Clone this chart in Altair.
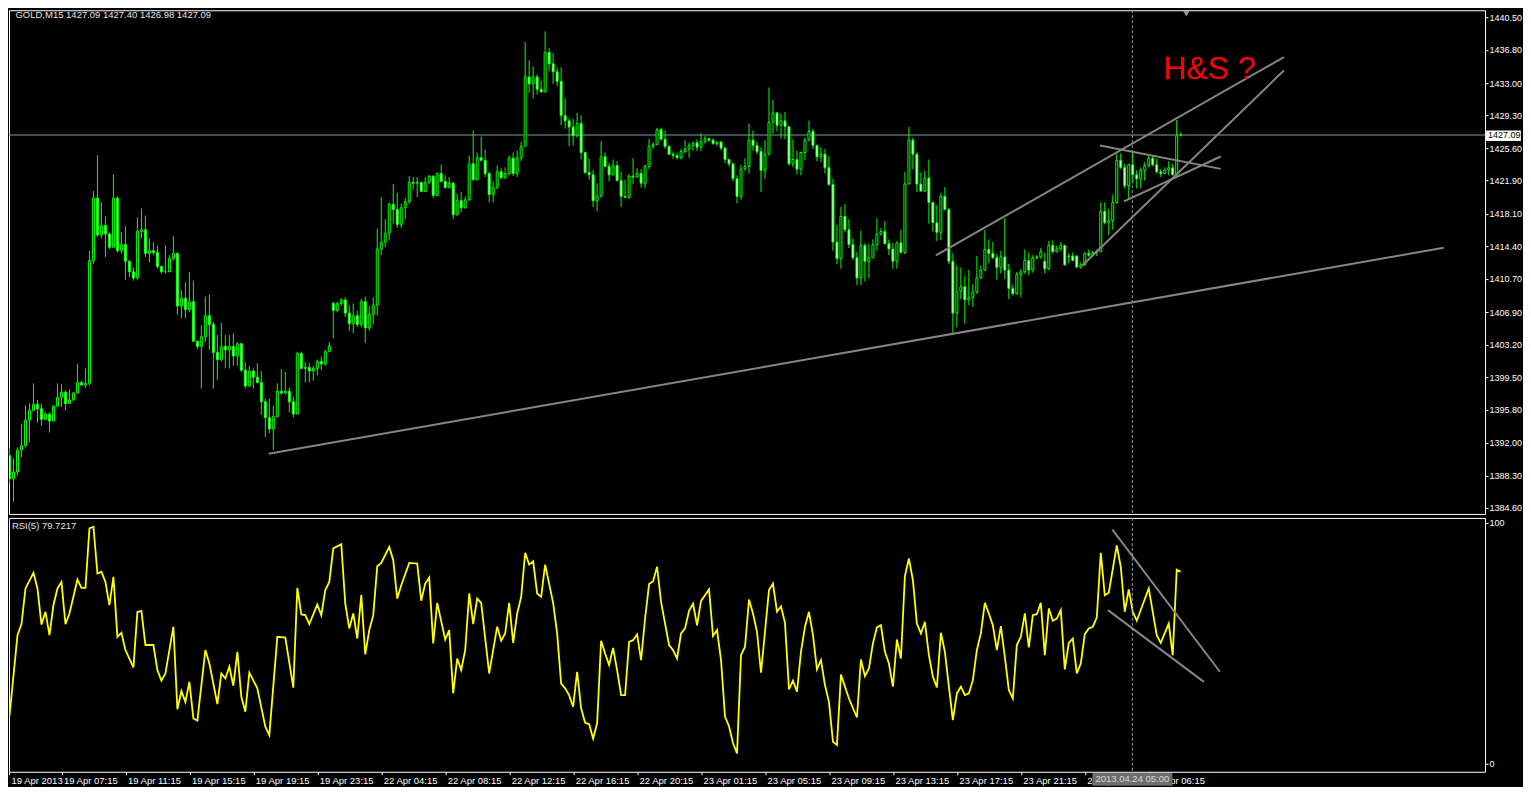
import altair as alt
import pandas as pd

FONT = "Liberation Sans"
LIME = "#00ff00"

# ---------------- candles (GOLD M15), bar index 0..294 ----------------
close = [
    1390.6, 1387.9, 1388.7, 1391.2, 1391.7, 1394.6, 1395.7, 1396.4, 1395.9, 1394.7,
    1395.3, 1394.5, 1396.2, 1397.2, 1397.8, 1396.5, 1396.9, 1397.7, 1398.9, 1398.6,
    1398.8, 1412.8, 1419.9, 1415.7, 1416.8, 1415.8, 1414.3, 1419.9, 1413.9, 1414.6,
    1412.7, 1411.5, 1410.8, 1416.1, 1416.3, 1413.6, 1413.9, 1413.7, 1412.1, 1411.5,
    1411.5, 1413.0, 1413.6, 1407.6, 1408.5, 1407.2, 1408.1, 1403.6, 1403.0, 1404.1,
    1406.5, 1405.5, 1402.3, 1401.5, 1403.0, 1402.6, 1403.0, 1401.9, 1403.3, 1400.3,
    1398.5, 1400.2, 1399.5, 1398.9, 1396.7, 1394.9, 1393.6, 1395.0, 1397.9, 1397.7,
    1397.9, 1396.7, 1395.3, 1402.2, 1400.5, 1400.6, 1400.2, 1400.5, 1401.3, 1401.0,
    1402.4, 1403.05, 1407.1, 1407.9, 1408.3, 1406.8, 1405.6, 1406.5, 1405.5, 1408.1,
    1405.1, 1406.65, 1407.7, 1414.1, 1414.9, 1415.9, 1419.2, 1418.6, 1416.9, 1418.8,
    1419.5, 1421.7, 1421.6, 1421.7, 1420.65, 1421.7, 1422.4, 1420.2, 1422.7, 1421.8,
    1421.1, 1421.6, 1418.0, 1419.6, 1418.8, 1419.7, 1423.8, 1422.0, 1424.5, 1424.2,
    1422.7, 1420.3, 1421.1, 1422.9, 1422.2, 1422.7, 1424.45, 1422.7, 1424.5, 1425.8,
    1433.7, 1432.9, 1433.7, 1432.3, 1432.0, 1436.5, 1435.2, 1434.3, 1433.2, 1429.3,
    1428.7, 1428.0, 1427.0, 1428.4, 1425.1, 1422.8, 1422.55, 1419.6, 1420.1, 1424.6,
    1423.5, 1422.55, 1423.6, 1421.9, 1420.1, 1420.0, 1422.4, 1422.3, 1422.7, 1421.6,
    1423.5, 1425.8, 1426.0, 1427.7, 1426.6, 1425.8, 1424.9, 1424.75, 1424.5, 1425.2,
    1425.5, 1425.9, 1426.2, 1425.7, 1426.35, 1426.65, 1426.5, 1426.1, 1426.3, 1425.6,
    1424.3, 1423.8, 1422.1, 1420.1, 1423.2, 1423.5, 1426.5, 1425.9, 1425.2, 1423.05,
    1424.9, 1428.55, 1429.6, 1428.2, 1428.7, 1428.05, 1423.8, 1424.3, 1423.2, 1425.1,
    1426.5, 1427.5, 1425.9, 1424.6, 1424.9, 1423.35, 1421.45, 1414.9, 1413.0, 1417.8,
    1416.3, 1414.6, 1413.1, 1410.8, 1414.5, 1412.7, 1413.1, 1414.6, 1415.8, 1416.1,
    1414.7, 1414.1, 1412.7, 1414.8, 1413.7, 1421.5, 1426.5, 1424.9, 1421.5, 1420.7,
    1422.2, 1419.4, 1417.1, 1416.0, 1420.1, 1418.6, 1412.7, 1406.8, 1409.3, 1409.8,
    1408.3, 1408.6, 1409.2, 1410.8, 1411.7, 1414.05, 1413.6, 1413.1, 1412.0, 1413.2,
    1411.7, 1409.6, 1409.0, 1411.2, 1411.5, 1412.8, 1411.7, 1413.1, 1413.2, 1413.8,
    1411.85, 1414.5, 1413.8, 1414.1, 1414.5, 1412.3, 1413.3, 1412.8, 1412.04, 1412.3,
    1413.6, 1413.4, 1413.7, 1413.8, 1418.4, 1417.1, 1417.35, 1419.4, 1424.2, 1423.4,
    1421.3, 1423.7, 1422.55, 1422.1, 1423.05, 1423.6, 1424.45, 1423.7, 1422.9, 1422.7,
    1423.1, 1423.35, 1422.55, 1427.0, 1427.09,
]
high = [
    1392.3, 1391.5, 1390.2, 1391.5, 1394.2, 1396.3, 1396.5, 1398.8, 1396.9, 1396.5,
    1395.5, 1395.5, 1396.3, 1398.8, 1398.7, 1398.0, 1398.1, 1397.8, 1401.0, 1399.1,
    1400.5, 1413.9, 1420.7, 1424.8, 1419.4, 1417.8, 1416.0, 1422.6, 1420.1, 1416.0,
    1416.7, 1412.8, 1412.0, 1417.7, 1418.7, 1417.9, 1415.3, 1414.9, 1414.5, 1412.2,
    1414.5, 1413.4, 1415.6, 1413.7, 1409.4, 1410.3, 1411.5, 1410.5, 1403.7, 1405.4,
    1408.7, 1408.9, 1405.8, 1404.3, 1405.7, 1404.3, 1404.3, 1404.5, 1403.5, 1403.4,
    1401.2, 1400.8, 1400.5, 1401.1, 1400.2, 1397.05, 1397.1, 1396.2, 1398.8, 1400.4,
    1400.1, 1398.3, 1397.3, 1402.4, 1402.4, 1401.2, 1401.1, 1400.8, 1401.5, 1401.8,
    1402.6, 1403.5, 1408.1, 1408.1, 1408.5, 1408.6, 1407.7, 1407.9, 1407.1, 1408.4,
    1408.7, 1407.6, 1408.6, 1416.4, 1420.0, 1417.5, 1419.4, 1421.5, 1420.5, 1419.25,
    1419.9, 1422.4, 1422.3, 1422.3, 1421.7, 1422.3, 1422.55, 1422.5, 1422.8, 1423.7,
    1422.5, 1422.3, 1421.8, 1420.4, 1420.6, 1420.1, 1424.75, 1427.6, 1425.1, 1426.9,
    1425.4, 1422.9, 1421.8, 1423.6, 1423.3, 1423.4, 1424.75, 1425.1, 1425.3, 1426.3,
    1437.7, 1435.6, 1434.9, 1434.0, 1433.3, 1438.9, 1437.0, 1436.4, 1434.8, 1434.8,
    1431.3, 1429.0, 1428.9, 1429.6, 1429.3, 1425.2, 1424.4, 1423.1, 1421.6, 1426.4,
    1425.1, 1423.9, 1424.3, 1424.1, 1422.9, 1422.0, 1422.6, 1424.45, 1423.3, 1423.2,
    1423.7, 1426.65, 1426.3, 1427.9, 1427.9, 1427.6, 1425.9, 1425.2, 1425.1, 1425.5,
    1426.5, 1426.2, 1426.3, 1426.6, 1427.3, 1427.0, 1426.8, 1426.7, 1426.35, 1426.35,
    1425.7, 1424.4, 1423.8, 1422.5, 1423.7, 1424.45, 1428.4, 1427.6, 1426.3, 1425.7,
    1426.5, 1432.5, 1431.1, 1429.7, 1429.5, 1429.7, 1428.0, 1426.6, 1425.3, 1425.2,
    1426.8, 1428.7, 1427.8, 1426.0, 1425.7, 1425.5, 1424.7, 1422.1, 1416.9, 1418.9,
    1419.25, 1417.5, 1415.3, 1413.8, 1416.2, 1414.8, 1414.7, 1415.2, 1417.6, 1416.5,
    1417.3, 1415.2, 1414.8, 1415.0, 1416.3, 1422.9, 1428.0, 1426.8, 1425.1, 1422.8,
    1423.05, 1424.3, 1419.5, 1419.1, 1420.5, 1421.15, 1418.8, 1413.6, 1412.2, 1412.0,
    1411.1, 1411.7, 1410.1, 1413.3, 1412.2, 1416.3, 1415.2, 1414.9, 1413.5, 1413.9,
    1417.6, 1412.4, 1410.0, 1411.5, 1411.8, 1414.05, 1413.7, 1413.4, 1413.4, 1414.2,
    1413.7, 1415.0, 1415.1, 1414.5, 1414.9, 1414.6, 1413.6, 1413.7, 1413.4, 1412.6,
    1413.7, 1414.05, 1413.9, 1414.05, 1419.4, 1419.4, 1418.7, 1420.3, 1424.9, 1425.0,
    1423.8, 1423.8, 1425.1, 1423.05, 1423.4, 1424.0, 1424.7, 1424.75, 1424.4, 1423.2,
    1423.4, 1424.1, 1423.8, 1428.8, 1427.40,
]
low = [
    1389.5, 1387.4, 1385.3, 1388.3, 1390.4, 1391.5, 1392.1, 1395.7, 1394.3, 1394.0,
    1394.6, 1393.2, 1394.5, 1396.1, 1396.1, 1395.7, 1396.5, 1396.8, 1397.6, 1398.6,
    1398.3, 1398.6, 1412.4, 1415.5, 1415.3, 1413.2, 1414.1, 1414.2, 1413.7, 1413.6,
    1410.6, 1410.9, 1410.5, 1410.6, 1415.3, 1413.2, 1412.6, 1413.4, 1411.85, 1411.3,
    1411.3, 1411.5, 1412.8, 1406.6, 1406.2, 1406.2, 1406.9, 1403.5, 1402.7, 1398.2,
    1403.5, 1402.6, 1398.2, 1399.2, 1401.3, 1400.5, 1400.5, 1400.8, 1400.8, 1400.1,
    1398.2, 1398.4, 1398.2, 1398.8, 1395.2, 1392.65, 1393.1, 1391.2, 1394.96, 1397.5,
    1397.5, 1395.5, 1394.9, 1395.3, 1400.5, 1398.9, 1398.9, 1399.1, 1399.7, 1400.3,
    1400.8, 1402.4, 1403.9, 1406.9, 1407.6, 1406.35, 1404.8, 1404.5, 1405.2, 1405.2,
    1403.4, 1404.8, 1405.5, 1406.5, 1413.4, 1414.3, 1415.1, 1417.0, 1416.5, 1416.5,
    1417.5, 1419.25, 1420.8, 1420.0, 1420.6, 1420.6, 1421.5, 1419.9, 1420.1, 1421.7,
    1420.96, 1421.0, 1417.5, 1417.9, 1418.3, 1418.7, 1419.6, 1421.9, 1421.9, 1424.1,
    1422.3, 1419.4, 1419.4, 1420.9, 1422.1, 1422.1, 1422.5, 1422.4, 1422.3, 1424.1,
    1425.8, 1431.9, 1431.3, 1431.7, 1431.9, 1432.0, 1434.35, 1432.9, 1432.65, 1428.2,
    1427.8, 1425.8, 1425.9, 1426.8, 1424.3, 1422.7, 1422.0, 1418.9, 1418.4, 1420.0,
    1423.4, 1421.8, 1422.5, 1421.8, 1418.9, 1419.9, 1419.8, 1421.5, 1422.2, 1421.1,
    1421.0, 1423.2, 1425.5, 1426.0, 1426.5, 1425.5, 1424.8, 1424.4, 1424.3, 1424.3,
    1425.0, 1424.5, 1425.3, 1425.25, 1425.25, 1426.1, 1426.35, 1426.0, 1425.8, 1425.3,
    1423.9, 1423.5, 1421.8, 1419.3, 1419.7, 1423.05, 1422.7, 1425.3, 1424.9, 1420.6,
    1422.1, 1424.75, 1427.3, 1427.5, 1426.65, 1426.6, 1423.6, 1423.4, 1422.6, 1422.5,
    1424.2, 1426.5, 1425.5, 1424.1, 1424.0, 1422.7, 1421.3, 1413.9, 1412.4, 1411.85,
    1416.0, 1414.2, 1412.8, 1410.0, 1410.0, 1410.4, 1410.8, 1413.1, 1413.9, 1415.65,
    1414.6, 1413.4, 1411.85, 1411.85, 1413.6, 1413.5, 1421.5, 1423.2, 1420.6, 1420.65,
    1420.6, 1417.0, 1416.1, 1415.0, 1415.1, 1418.5, 1412.4, 1404.3, 1405.2, 1408.4,
    1405.6, 1407.7, 1407.5, 1409.0, 1410.7, 1411.6, 1412.5, 1413.0, 1410.6, 1411.3,
    1410.7, 1408.4, 1408.8, 1408.9, 1408.6, 1411.3, 1411.1, 1411.4, 1412.9, 1413.0,
    1411.3, 1411.7, 1413.6, 1413.7, 1413.9, 1412.2, 1412.5, 1412.7, 1411.9, 1411.85,
    1412.2, 1413.2, 1413.3, 1413.3, 1413.8, 1416.9, 1415.7, 1416.3, 1419.25, 1423.2,
    1421.0, 1419.8, 1421.7, 1421.0, 1421.0, 1421.9, 1423.4, 1423.5, 1422.7, 1422.3,
    1422.8, 1422.5, 1422.5, 1422.5, 1426.98,
]
# opens equal the previous close except at these bars
gap_open = {0: 1392.1, 82: 1407.9, 260: 1412.7, 266: 1413.2, 268: 1413.3}

# ---------------- RSI(5): (bar, value) vertices ----------------
rsi_points = [
    (1, 19.9), (3, 53.4), (4, 58.0), (5, 72.8), (7, 79.3), (8, 72.8), (9, 57.8), (10, 63.1),
    (11, 53.4), (12, 65.9), (13, 72.8), (14, 75.5), (15, 58.0), (16, 62.4), (18, 76.5), (19, 73.0),
    (20, 73.0), (21, 97.7), (22, 98.4), (23, 79.0), (24, 79.7), (25, 75.5), (26, 65.9), (27, 77.6),
    (28, 52.7), (29, 54.4), (30, 47.2), (32, 40.0), (33, 63.1), (34, 63.4), (35, 49.3), (37, 49.3),
    (38, 38.9), (39, 34.5), (40, 37.5), (42, 56.9), (43, 22.6), (44, 30.2), (45, 25.7), (46, 34.0),
    (47, 18.8), (48, 17.9), (50, 47.2), (51, 41.6), (53, 24.8), (54, 37.5), (55, 35.4), (56, 40.3),
    (57, 32.4), (58, 46.5), (59, 27.8), (60, 21.6), (61, 37.8), (63, 31.3), (65, 15.4), (66, 11.9),
    (68, 52.7), (70, 52.4), (72, 31.6), (73, 73.0), (74, 62.0), (75, 61.7), (76, 58.0), (78, 66.1),
    (79, 61.7), (80, 72.1), (81, 75.5), (82, 89.4), (84, 91.2), (85, 66.5), (86, 56.2), (87, 62.4),
    (88, 52.0), (89, 70.0), (90, 45.4), (91, 55.5), (92, 61.7), (93, 82.0), (94, 83.4), (96, 90.0),
    (97, 84.5), (98, 68.6), (99, 74.1), (101, 83.4), (103, 83.1), (104, 67.7), (105, 74.8), (106, 77.3),
    (107, 50.0), (108, 66.8), (110, 51.6), (111, 55.5), (112, 29.2), (113, 43.7), (114, 38.9), (115, 47.2),
    (116, 70.7), (117, 58.0), (118, 68.6), (119, 66.8), (121, 37.5), (123, 56.9), (124, 51.1), (125, 54.1),
    (126, 66.8), (127, 50.2), (128, 62.4), (129, 69.3), (130, 87.6), (131, 82.7), (132, 84.1), (133, 70.7),
    (134, 69.3), (135, 82.7), (137, 66.8), (138, 54.1), (139, 33.3), (140, 31.3), (141, 28.5), (142, 23.7),
    (143, 38.2), (144, 23.0), (145, 17.0), (146, 16.5), (147, 10.5), (148, 16.8), (149, 51.1), (150, 45.8),
    (151, 41.0), (152, 48.1), (153, 38.9), (154, 28.5), (155, 28.5), (156, 50.6), (157, 51.3), (158, 53.7),
    (159, 43.0), (160, 60.3), (161, 74.6), (162, 75.8), (163, 81.8), (164, 67.2), (165, 58.2), (166, 49.3),
    (167, 47.2), (168, 43.7), (169, 54.1), (170, 56.2), (171, 63.5), (172, 66.5), (173, 57.5), (174, 67.6),
    (176, 72.4), (177, 53.0), (178, 55.5), (179, 43.0), (180, 19.5), (181, 15.6), (182, 8.5), (183, 4.3),
    (184, 45.1), (185, 48.6), (186, 68.2), (187, 62.4), (188, 54.8), (189, 37.8), (190, 54.8), (191, 72.1),
    (192, 74.8), (193, 63.1), (194, 65.4), (195, 58.5), (196, 30.9), (197, 34.5), (198, 29.9), (199, 46.5),
    (200, 56.9), (201, 63.1), (202, 53.4), (203, 39.2), (204, 43.0), (205, 32.7), (206, 25.7), (207, 9.1),
    (208, 7.8), (209, 37.0), (211, 27.1), (213, 19.2), (214, 43.3), (215, 36.4), (216, 39.6), (217, 50.0),
    (218, 56.6), (219, 57.5), (220, 46.5), (221, 41.6), (222, 32.0), (223, 51.6), (224, 43.7), (225, 77.9),
    (226, 85.2), (227, 76.2), (228, 58.2), (229, 54.1), (230, 58.9), (231, 45.1), (232, 36.1), (233, 31.7),
    (234, 54.4), (235, 46.5), (236, 32.0), (237, 18.1), (238, 29.2), (239, 32.0), (240, 28.5), (241, 29.2),
    (242, 34.7), (243, 47.2), (244, 54.1), (245, 66.8), (246, 62.4), (247, 57.5), (248, 47.2), (249, 57.1),
    (250, 44.4), (251, 30.6), (252, 27.1), (253, 49.3), (254, 52.7), (255, 62.4), (256, 48.3), (257, 61.7),
    (258, 62.1), (259, 66.8), (260, 45.1), (261, 64.5), (262, 59.4), (263, 60.3), (264, 63.8), (265, 39.2),
    (266, 50.2), (267, 52.0), (268, 37.5), (269, 41.6), (270, 53.8), (271, 56.2), (272, 56.9), (273, 60.7),
    (274, 87.6), (275, 70.0), (276, 71.0), (278, 90.7), (279, 81.8), (280, 63.1), (281, 72.4), (282, 63.1),
    (283, 59.4), (286, 72.8), (288, 53.4), (289, 50.2), (291, 58.2), (292, 45.1), (293, 80.6), (294, 79.7),
]

# ---------------- axes text ----------------
price_ticks = [1440.50, 1436.80, 1433.00, 1429.30, 1425.60, 1421.90, 1418.10, 1414.40,
               1410.70, 1406.90, 1403.20, 1399.50, 1395.80, 1392.00, 1388.30, 1384.60]
rsi_ticks = [0, 100]
time_bars = [0.875, 14, 30, 46, 62, 78, 94, 110, 126, 142, 158, 174, 190, 206, 222, 238, 254, 270, 286]
time_labels = ["19 Apr 2013", "19 Apr 07:15", "19 Apr 11:15", "19 Apr 15:15", "19 Apr 19:15",
               "19 Apr 23:15", "22 Apr 04:15", "22 Apr 08:15", "22 Apr 12:15", "22 Apr 16:15",
               "22 Apr 20:15", "23 Apr 01:15", "23 Apr 05:15", "23 Apr 09:15", "23 Apr 13:15",
               "23 Apr 17:15", "23 Apr 21:15", "24 Apr 01:15", "24 Apr 06:15"]

# ---------------- drawn objects ----------------
price_lines_x1 = [65.8, 232.75, 269.4, 273.8, 279.8]
price_lines_p1 = [1390.78, 1413.37, 1412.23, 1425.89, 1419.52]
price_lines_x2 = [359.8, 319.8, 319.8, 304.0, 304.0]
price_lines_p2 = [1414.24, 1435.95, 1434.43, 1423.23, 1424.64]
rsi_lines_x1 = [276.9, 275.8]
rsi_lines_r1 = [97.2, 63.8]
rsi_lines_x2 = [303.8, 299.8]
rsi_lines_r2 = [38.2, 34.0]

last_price = 1427.09
crosshair_bar = 281.9
crosshair_text = "2013.04.24 05:00"
header_text = "GOLD,M15  1427.09 1427.40 1426.98 1427.09"
rsi_text = "RSI(5) 79.7217"
note_text = "H&S ?"

# ---------------- scales / layout ----------------
W = 1477
H_PRICE = 504
H_RSI = 254
X_DOM = [0.875, 0.875 + W / 4.0]
P_DOM = [1383.92, 1441.30]
R_DOM = [-3.32, 102.07]

xs = alt.Scale(domain=X_DOM, nice=False, zero=False, padding=0)
ps = alt.Scale(domain=P_DOM, nice=False, zero=False, padding=0)
rs = alt.Scale(domain=R_DOM, nice=False, zero=False, padding=0)

price_axis = alt.Axis(orient="right", values=price_ticks, format=".2f", title=None, grid=False,
                      domain=False, tickColor="white", tickSize=3, labelColor="white",
                      labelFont=FONT, labelFontSize=9, labelPadding=1, labelOverlap=False,
                      labelFlush=False)
rsi_axis = alt.Axis(orient="right", values=rsi_ticks, format="d", title=None, grid=False,
                    domain=False, tickColor="white", tickSize=3, labelColor="white",
                    labelFont=FONT, labelFontSize=9, labelPadding=1, labelOverlap=False,
                    labelFlush=False)
label_expr = ("[" + ",".join("'" + s + "'" for s in time_labels) + "][indexof(["
              + ",".join(str(b) for b in time_bars) + "], datum.value)]")
time_axis = alt.Axis(orient="bottom", values=time_bars, labelExpr=label_expr, title=None,
                     grid=False, domain=False, tickColor="white", tickSize=3,
                     labelColor="white", labelFont=FONT, labelFontSize=9.5, labelAlign="left",
                     labelBaseline="top", labelPadding=1, labelOffset=2, labelFlush=False,
                     labelOverlap=False)


def PX(f):
    return alt.X(f, type="quantitative", scale=xs, axis=None)


def PY(f):
    return alt.Y(f, type="quantitative", scale=ps, axis=price_axis)


def TX(f):
    return alt.X(f, type="quantitative", scale=xs, axis=time_axis)


def RY(f):
    return alt.Y(f, type="quantitative", scale=rs, axis=rsi_axis)


# ---------------- data frames ----------------
n = min(len(close), len(high), len(low))
opens = [gap_open[i] if i in gap_open else close[i - 1] for i in range(n)]
candles = pd.DataFrame({
    "bar": list(range(n)),
    "open": opens,
    "close": close[:n],
    "high": [max(high[i], opens[i], close[i]) for i in range(n)],
    "low": [min(low[i], opens[i], close[i]) for i in range(n)],
})
candles["dir"] = ["bear" if c < o else "bull" for o, c in zip(candles["open"], candles["close"])]
candles = candles[candles["bar"] >= 1]

rsi_df = pd.DataFrame(rsi_points, columns=["bar", "rsi"])
plines = pd.DataFrame({"x1": price_lines_x1, "p1": price_lines_p1,
                       "x2": price_lines_x2, "p2": price_lines_p2})
rlines = pd.DataFrame({"x1": rsi_lines_x1, "r1": rsi_lines_r1,
                       "x2": rsi_lines_x2, "r2": rsi_lines_r2})

# ---------------- price panel ----------------
hline = alt.Chart(pd.DataFrame({"p": [last_price]})).mark_rule(
    color="#8a98a6", strokeWidth=1).encode(y=PY("p"))
cross_p = alt.Chart(pd.DataFrame({"b": [crosshair_bar]})).mark_rule(
    color="#9a9a9a", strokeWidth=1, strokeDash=[3, 2]).encode(x=PX("b"))
wicks = alt.Chart(candles).mark_rule(color=LIME, strokeWidth=1, clip=True).encode(
    x=PX("bar"), y=PY("low"), y2="high")
bodies = alt.Chart(candles).mark_bar(size=2, stroke=LIME, strokeWidth=1, clip=True).encode(
    x=PX("bar"), y=PY("open"), y2="close",
    fill=alt.Fill("dir:N", scale=alt.Scale(domain=["bear", "bull"], range=["#ffffff", "#000000"]),
                  legend=None))
trend = alt.Chart(plines).mark_rule(color="#858585", strokeWidth=2, clip=True).encode(
    x=PX("x1"), x2="x2", y=PY("p1"), y2="p2")
note = alt.Chart(pd.DataFrame({"b": [289.6], "p": [1433.45], "t": [note_text]})).mark_text(
    align="left", baseline="alphabetic", font=FONT, fontSize=32, color="#ff0000").encode(
    x=PX("b"), y=PY("p"), text="t:N")
header = alt.Chart(pd.DataFrame({"b": [2.5], "p": [1440.8], "t": [header_text]})).mark_text(
    align="left", baseline="middle", font=FONT, fontSize=9.5, color="#e6e6e6").encode(
    x=PX("b"), y=PY("p"), text="t:N")
marker = alt.Chart(pd.DataFrame({"b": [295.4], "p": [1440.9]})).mark_point(
    shape="triangle-down", filled=True, size=40, color="#8899aa", opacity=1).encode(
    x=PX("b"), y=PY("p"))
pbox = alt.Chart(pd.DataFrame({"b1": [370.4], "b2": [379.1], "p1": [1427.6], "p2": [1426.4]})).mark_rect(
    color="white").encode(x=PX("b1"), x2="b2", y=PY("p1"), y2="p2")
ptext = alt.Chart(pd.DataFrame({"b": [370.85], "p": [last_price], "t": ["1427.09"]})).mark_text(
    align="left", baseline="middle", font=FONT, fontSize=9, color="black").encode(
    x=PX("b"), y=PY("p"), text="t:N")

price_chart = alt.layer(hline, cross_p, wicks, bodies, trend, note, header, marker, pbox, ptext).properties(
    width=W, height=H_PRICE)

# ---------------- RSI panel ----------------
rsi_line = alt.Chart(rsi_df).mark_line(color="#ffff00", strokeWidth=1.8, clip=True).encode(
    x=TX("bar"), y=RY("rsi"))
rtrend = alt.Chart(rlines).mark_rule(color="#858585", strokeWidth=2, clip=True).encode(
    x=TX("x1"), x2="x2", y=RY("r1"), y2="r2")
cross_r = alt.Chart(pd.DataFrame({"b": [crosshair_bar]})).mark_rule(
    color="#9a9a9a", strokeWidth=1, strokeDash=[3, 2]).encode(x=TX("b"))
rlabel = alt.Chart(pd.DataFrame({"b": [1.6], "r": [98.8], "t": [rsi_text]})).mark_text(
    align="left", baseline="middle", font=FONT, fontSize=9.5, color="#e6e6e6").encode(
    x=TX("b"), y=RY("r"), text="t:N")
dbox = alt.Chart(pd.DataFrame({"b1": [271.9], "b2": [291.9], "r1": [-3.8], "r2": [-9.1]})).mark_rect(
    color="#6e6e6e").encode(x=TX("b1"), x2="b2", y=RY("r1"), y2="r2")
dtext = alt.Chart(pd.DataFrame({"b": [crosshair_bar], "r": [-6.45], "t": [crosshair_text]})).mark_text(
    align="center", baseline="middle", font=FONT, fontSize=9.5, color="#d6d6d6").encode(
    x=TX("b"), y=RY("r"), text="t:N")

rsi_chart = alt.layer(rsi_line, rtrend, cross_r, rlabel, dbox, dtext).properties(
    width=W, height=H_RSI)

chart = alt.vconcat(price_chart, rsi_chart, spacing=4, bounds="flush").resolve_scale(
    x="independent", y="independent").properties(
    background="black", padding=0).configure_view(stroke="white", strokeWidth=1)

chart.save("out.html", embed_options={"renderer": "svg", "actions": False})
